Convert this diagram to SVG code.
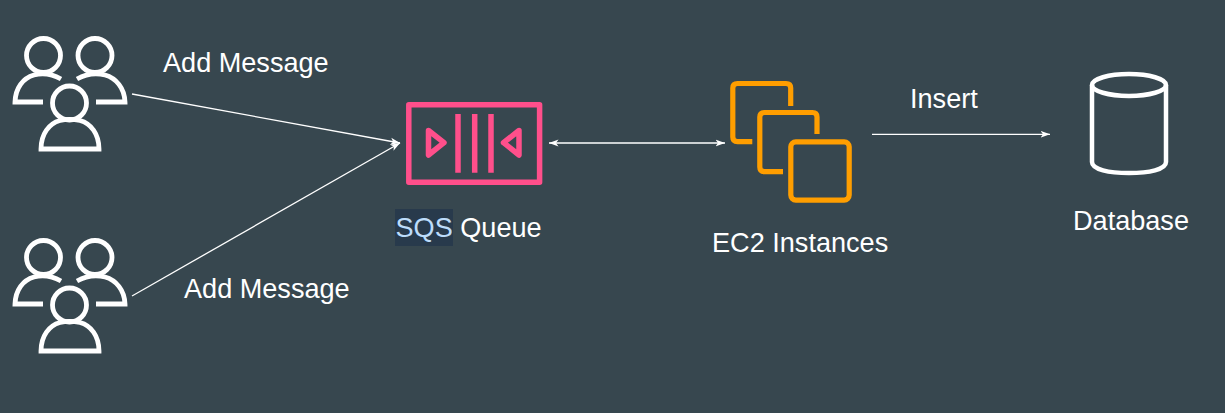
<svg xmlns="http://www.w3.org/2000/svg" width="1225" height="413" viewBox="0 0 1225 413">
<defs>
<marker id="arr" viewBox="0 0 10 8" refX="9.5" refY="4" markerWidth="10" markerHeight="8" markerUnits="userSpaceOnUse" orient="auto-start-reverse"><path d="M0 0.5 L9.5 4 L0 7.500 L2.500 4 Z" fill="#fff"/></marker>
<g id="users" fill="none" stroke="#fff" stroke-width="4.800">
<circle cx="43.500" cy="55.500" r="17"/><circle cx="95" cy="55.500" r="17"/><circle cx="69.500" cy="103" r="17"/>
<path d="M43 102 H15 C15.500 88 23 78 34 75 C43 72.800 52 74 61 79"/>
<path d="M96 102 H125 C124.500 88 116 78 105 75 C96 72.800 86 74 77 79"/>
<path d="M41 149 C41 134 49 123.500 60 120.500 C66 119 73 119 80 120.500 C91 123.500 99 134 99 149 Z"/>
</g>
</defs>
<style>
.l{font-family:"Liberation Sans",Arial,sans-serif;font-size:27.100px;fill:#fff}
.c{fill:none;stroke:#fff;stroke-width:1.300}
.p{fill:none;stroke:#ff4f8b;stroke-width:5.500;stroke-linejoin:round}
.o{fill:none;stroke:#ff9e00;stroke-width:5.200}
.d{fill:none;stroke:#fff;stroke-width:4.500}
</style>
<rect width="1225" height="413" fill="#37474f"/>
<g id="connectors">
<path class="c" d="M132 94 L400 143" marker-end="url(#arr)"/>
<path class="c" d="M132 296 L400 143" marker-end="url(#arr)"/>
<path class="c" d="M549 143 H725" marker-start="url(#arr)" marker-end="url(#arr)"/>
<path class="c" d="M872 134.300 H1050" marker-end="url(#arr)"/>
</g>
<g id="users-top"><use href="#users"/></g>
<g id="users-bottom"><use href="#users" y="202"/></g>
<g id="sqs">
<rect class="p" x="408.800" y="104.800" width="130.800" height="77.500"/>
<path class="p" d="M428.500 130.500 L444 142.700 L428.500 155 Z"/>
<path class="p" d="M519 130.500 L503.500 142.700 L519 155 Z"/>
<path class="p" d="M458 114 V172.700 M474.700 114 V172.700 M491 114 V172.700"/>
</g>
<g id="ec2">
<path class="o" d="M790.700 106 V88 Q790.700 83.500 786 83.500 H737.500 Q732.800 83.500 732.800 88 V137 Q732.800 141.700 737.500 141.700 H752.300"/>
<path class="o" d="M817 134 V117 Q817 112.500 812.500 112.500 H764.500 Q759.800 112.500 759.800 117 V167 Q759.800 171.700 764.500 171.700 H783"/>
<rect class="o" x="790.800" y="141.800" width="58.400" height="58.300" rx="5"/>
</g>
<g id="database">
<ellipse class="d" cx="1129" cy="85" rx="37" ry="11"/>
<path class="d" d="M1092 85 V162 C1092 169.500 1109 173 1129 173 C1149 173 1166 169.500 1166 162 V85"/>
</g>
<g id="labels">
<text class="l" x="163" y="71.600">Add Message</text>
<text class="l" x="184" y="297.600">Add Message</text>
<rect x="395" y="209" width="58" height="37" fill="#283a4c"/>
<text class="l" x="395.500" y="236.600"><tspan fill="#bcdcfb">SQS</tspan> Queue</text>
<text class="l" x="712" y="252.400">EC2 Instances</text>
<text class="l" x="910" y="107.600">Insert</text>
<text class="l" x="1073" y="230.400">Database</text>
</g>
</svg>
